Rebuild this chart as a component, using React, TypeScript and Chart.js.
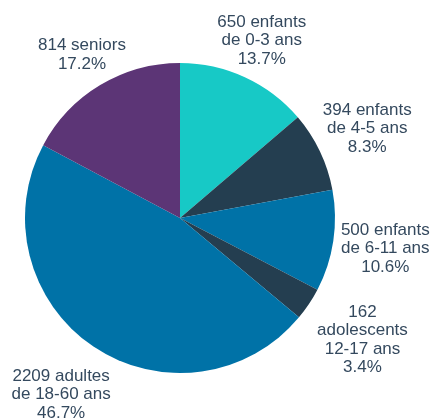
import React, { useEffect, useRef } from "react";
import { Chart, registerables } from "chart.js";

Chart.register(...registerables);

const labelLines: string[][] = [
  ["650 enfants", "de 0-3 ans"],
  ["394 enfants", "de 4-5 ans"],
  ["500 enfants", "de 6-11 ans"],
  ["162", "adolescents", "12-17 ans"],
  ["2209 adultes", "de 18-60 ans"],
  ["814 seniors"],
];
const values = [650, 394, 500, 162, 2209, 814];
const colors = ["#17c9c6", "#243e50", "#0072a7", "#243e50", "#0072a7", "#5c3576"];

const labelPlugin = {
  id: "outLabels",
  afterDatasetsDraw(chart: any) {
    const ctx = chart.ctx;
    const meta = chart.getDatasetMeta(0);
    const data = chart.data.datasets[0].data as number[];
    const total = data.reduce((a: number, b: number) => a + b, 0);
    ctx.save();
    ctx.font = "17px 'Liberation Sans', Arial, sans-serif";
    ctx.fillStyle = "#34495e";
    ctx.textAlign = "center";
    ctx.textBaseline = "middle";
    const lh = 18.5;
    meta.data.forEach((arc: any, i: number) => {
      const { x, y, startAngle, endAngle, outerRadius } = arc.getProps(
        ["x", "y", "startAngle", "endAngle", "outerRadius"],
        true
      );
      const mid = (startAngle + endAngle) / 2;
      const lines = [...labelLines[i], ((data[i] / total) * 100).toFixed(1) + "%"];
      const w = Math.max(...lines.map((l) => ctx.measureText(l).width));
      const h = (lines.length - 1) * lh + 14;
      const vx = Math.cos(mid);
      const vy = Math.sin(mid);
      const gap = 4 + 6 * vy;
      const d = outerRadius + gap + Math.abs(vx) * (w / 2) + Math.abs(vy) * (h / 2);
      const cx = x + vx * d;
      const cy = y + vy * d;
      const top = cy - ((lines.length - 1) * lh) / 2;
      lines.forEach((l, k) => ctx.fillText(l, cx, top + k * lh));
    });
    ctx.restore();
  },
};

export default function App() {
  const ref = useRef<HTMLCanvasElement>(null);
  useEffect(() => {
    document.body.style.margin = "0";
    const chart = new Chart(ref.current!, {
      type: "pie",
      data: {
        labels: labelLines.map((l) => l.join(" ")),
        datasets: [
          {
            data: values,
            backgroundColor: colors,
            borderWidth: 0,
          },
        ],
      },
      options: {
        responsive: false,
        animation: false,
        layout: { padding: { left: 25, right: 103, top: 63, bottom: 46 } },
        plugins: { legend: { display: false }, tooltip: { enabled: false } },
      },
      plugins: [labelPlugin],
    });
    return () => chart.destroy();
  }, []);
  return <canvas ref={ref} width={438} height={419} style={{ display: "block" }} />;
}
